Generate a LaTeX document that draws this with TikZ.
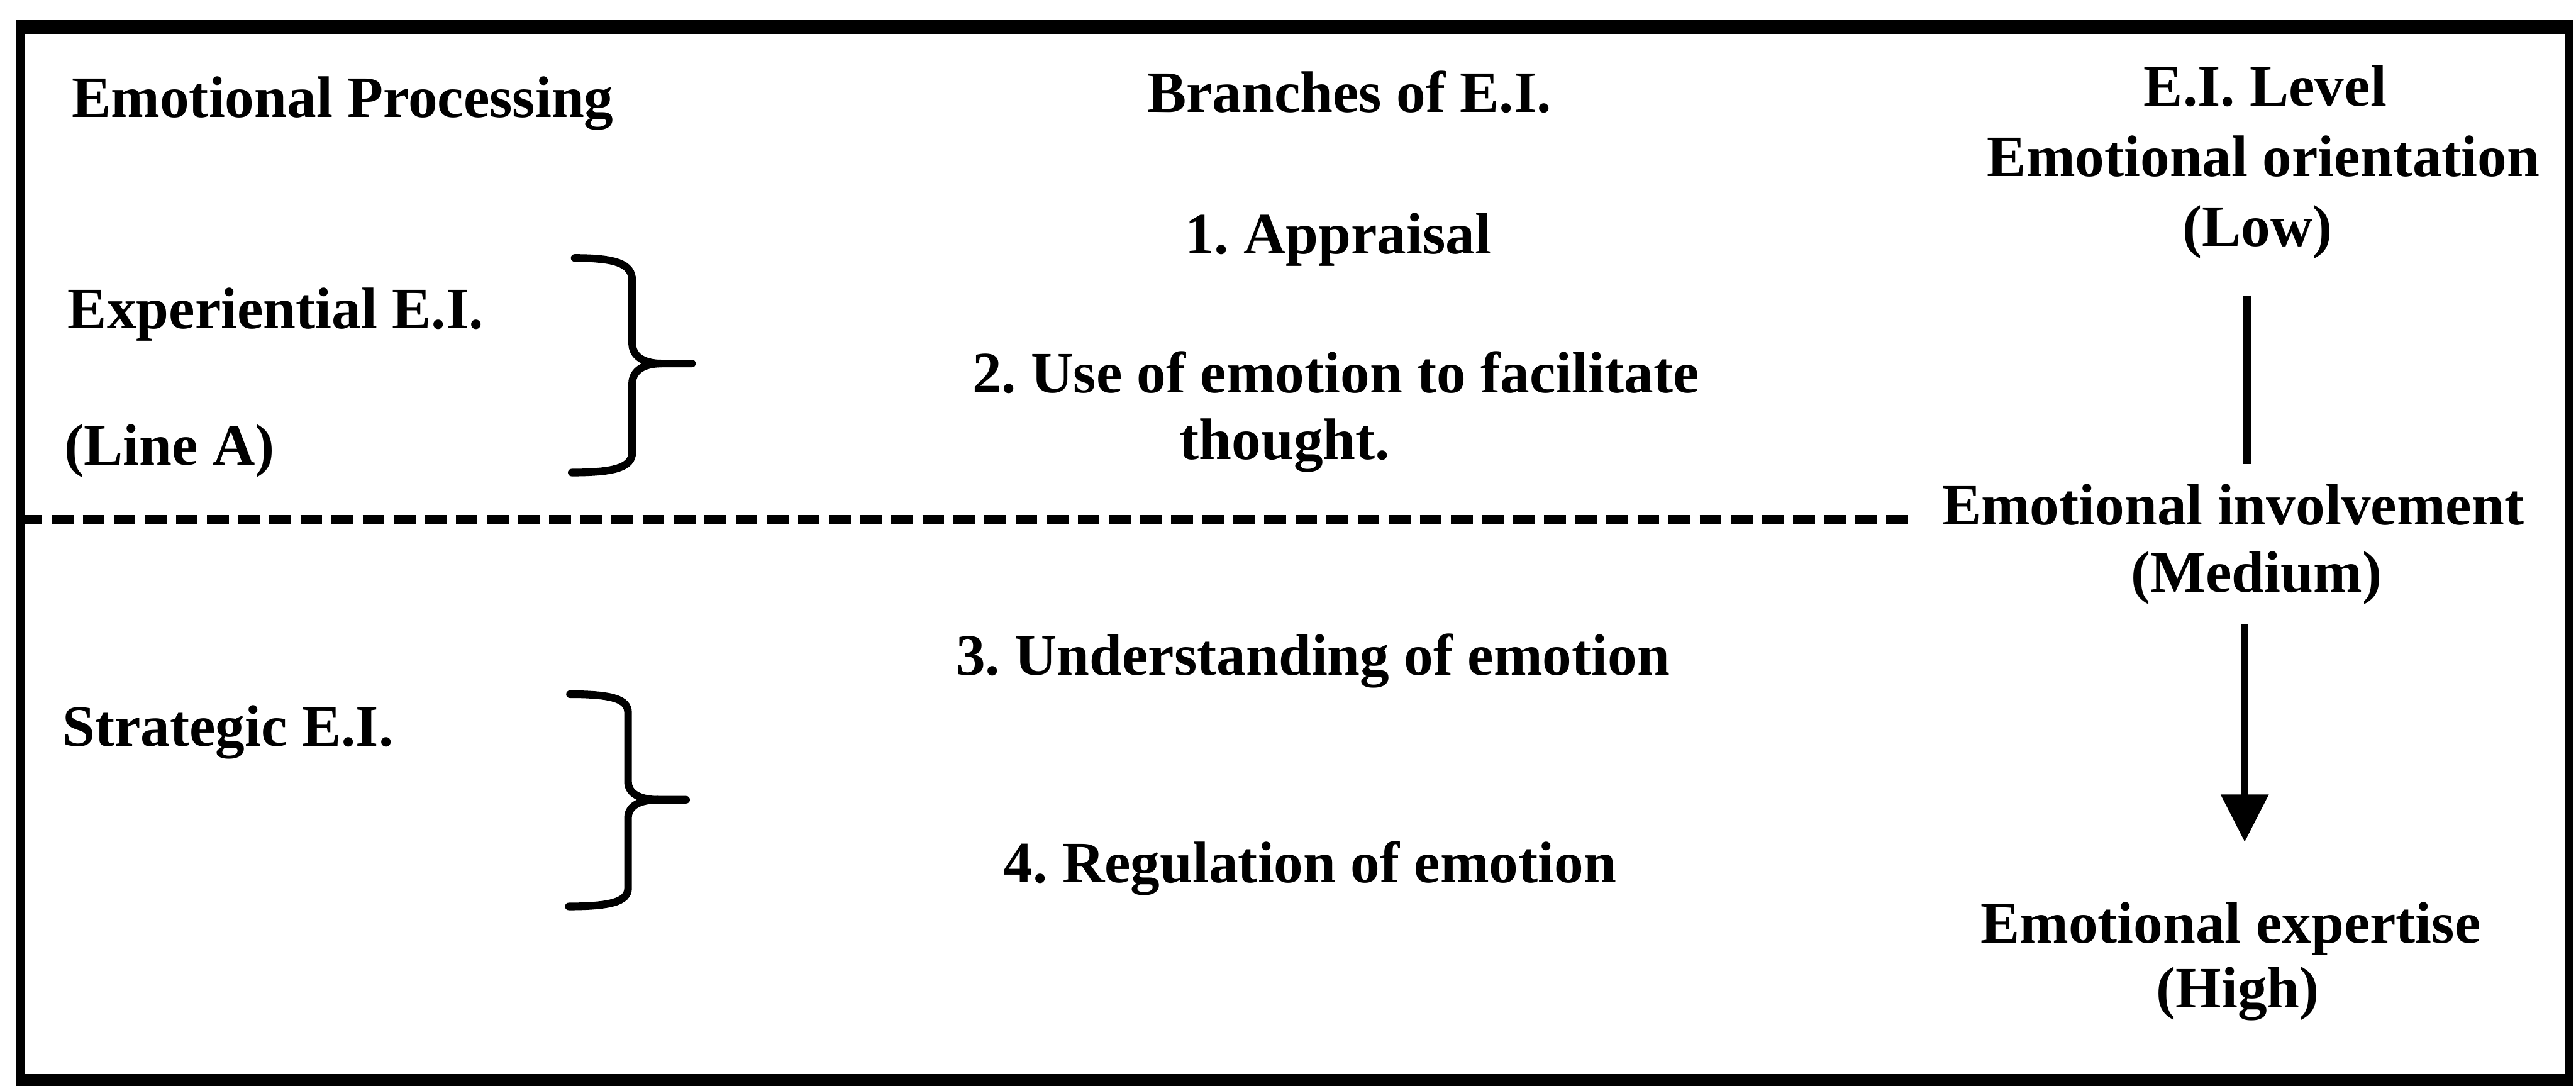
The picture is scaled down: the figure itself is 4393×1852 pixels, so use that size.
\documentclass[tikz,border=0pt]{standalone}
\usepackage{fontspec}
\setmainfont{Liberation Serif}
\usetikzlibrary{arrows.meta}
\frenchspacing
\begin{document}
\begin{tikzpicture}[x=0.01cm,y=-0.01cm,
  txt/.style={inner sep=0pt, font=\fontsize{28.45}{34}\selectfont\bfseries\frenchspacing},
  lft/.style={txt, anchor=base west},
  ctr/.style={txt, anchor=base},
  rgt/.style={txt, anchor=base east},
  frameline/.style={line width=0.14cm},
  bracepath/.style={line width=0.13cm, line cap=round},
  sepline/.style={line width=0.16cm, dash pattern=on 0.37cm off 0.16cm},
  conn/.style={line width=0.12cm}]
\useasboundingbox (0,0) rectangle (4393,1852);
% frame
\draw[frameline] (35,46) rectangle (4381,1842);
\draw[line width=0.24cm] (28,46) -- (4388,46);
\draw[line width=0.2cm] (28,1842) -- (4388,1842);
% headers
\node[lft] (hEP) at (122,200) {Emotional Processing};
\node[ctr] (hBr) at (2301,191) {Branches of E.I.};
\node[ctr] (hLv) at (3863,181) {E.I. Level};
% left column
\node[lft] (exp) at (115,560) {Experiential E.I.};
\node[lft] (lineA) at (109,793) {(Line A)};
\node[lft] (strat) at (106,1272) {Strategic E.I.};
% centre column
\node[ctr] (b1) at (2282,433) {1. Appraisal};
\node[rgt] (b2) at (2898,670) {2. Use of emotion to facilitate};
\node[ctr] (b2b) at (2191,783) {thought.};
\node[ctr] (b3) at (2239,1151) {3. Understanding of emotion};
\node[ctr] (b4) at (2234,1505) {4. Regulation of emotion};
% right column
\node[ctr] (orient) at (3860,301) {Emotional orientation};
\node[ctr] (low) at (3850,420) {(Low)};
\node[ctr] (invol) at (3808,895) {Emotional involvement};
\node[ctr] (med) at (3848,1010) {(Medium)};
\node[ctr] (expert) at (3804,1608) {Emotional expertise};
\node[ctr] (high) at (3816,1719) {(High)};
% connectors
\coordinate (v1s) at (3832,504);
\coordinate (v1e) at (3832,792);
\coordinate (v2s) at (3828,1064);
\coordinate (v2e) at (3828,1436);
\draw[conn] (v1s) -- (v1e);
\draw[conn,-{Triangle[length=0.81cm,width=0.79cm]}] (v2s) -- (v2e);
% dashed separator
\coordinate (dS) at (35,886);
\coordinate (dE) at (3261,886);
\draw[sepline] (dS) -- (dE);
% braces
\draw[bracepath] (980,440) .. controls (1050,440) and (1078,450) .. (1078,478)
  -- (1078,585) .. controls (1078,608) and (1098,620) .. (1128,620) -- (1180,620);
\draw[bracepath] (1128,620) .. controls (1098,620) and (1078,632) .. (1078,655)
  -- (1078,772) .. controls (1078,798) and (1045,806) .. (975,806);
\draw[bracepath] (972,1184) .. controls (1042,1184) and (1071,1192) .. (1071,1215)
  -- (1071,1333) .. controls (1071,1354) and (1092,1364) .. (1122,1364) -- (1170,1364);
\draw[bracepath] (1122,1364) .. controls (1092,1364) and (1071,1374) .. (1071,1395)
  -- (1071,1515) .. controls (1071,1538) and (1040,1546) .. (970,1546);
\end{tikzpicture}
\end{document}
